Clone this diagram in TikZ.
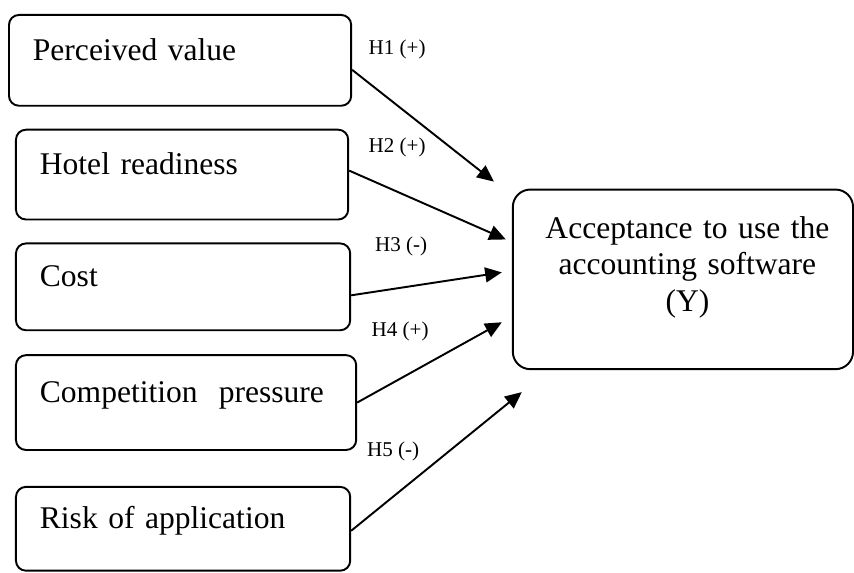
\documentclass[tikz,border=0pt]{standalone}
\usepackage{fontspec}
\setmainfont{Liberation Serif}
\usetikzlibrary{arrows.meta}
\tikzset{
    >={Triangle[length=9.5pt, width=8.5pt]},
    box/.style={draw, line width=1.1pt},
    factor/.style 2 args={box, rounded corners=0.2cm, inner xsep=0.48cm, text width=#1-0.96cm,
        minimum height=#2, align=left, font=\fontsize{18}{21}\selectfont, text height=12pt, text depth=12pt},
    outcome/.style={box, rounded corners=0.35cm, inner xsep=0.41cm, text width=6cm, minimum height=3.6cm,
        align=center, font=\fontsize{18}{21}\selectfont, text height=12pt, text depth=59pt},
    hyp/.style={inner sep=0pt, font=\fontsize{12}{14}\selectfont},
    link/.style={->, line width=1.1pt},
}
\begin{document}
\begin{tikzpicture}
    \node[factor={6.86cm}{1.82cm}] (pv) at (3.61,10.27) {Perceived value};
    \node[factor={6.66cm}{1.80cm}] (hr) at (3.65,7.98) {Hotel readiness};
    \node[factor={6.70cm}{1.74cm}] (cost) at (3.67,5.73) {Cost};
    \node[factor={6.82cm}{1.90cm}] (cp) at (3.73,3.41) {Competition~ pressure};
    \node[factor={6.70cm}{1.68cm}] (risk) at (3.67,0.88) {Risk of application};
    \node[outcome] (Y) at (13.69,5.88) {\hspace*{0.18cm}Acceptance to use the\\\hspace*{0.18cm}accounting software\\\hspace*{0.18cm}(Y)};
    \foreach \i/\x/\y in {1/9.90/7.84, 2/10.14/6.68, 3/10.06/6.02, 4/10.06/5.02, 5/10.46/3.62}
        \coordinate (t\i) at (\x,\y);
    \foreach \src/\dy/\i in {pv/-0.19/1, hr/0.08/2, cost/-0.17/3, cp/0/4, risk/-0.04/5}
        \draw[link] ([yshift=\dy cm]\src.east) -- (t\i);
    \foreach \i/\x/\y/\s in {1/7.96/10.48/+, 2/7.96/8.52/+, 3/8.04/6.54/-, 4/8.02/4.84/+, 5/7.88/2.44/-}
        \node[hyp] (h\i) at (\x,\y) {H\i{} (\s)};
    \useasboundingbox (0,0) rectangle (17.08,11.48);
\end{tikzpicture}
\end{document}
